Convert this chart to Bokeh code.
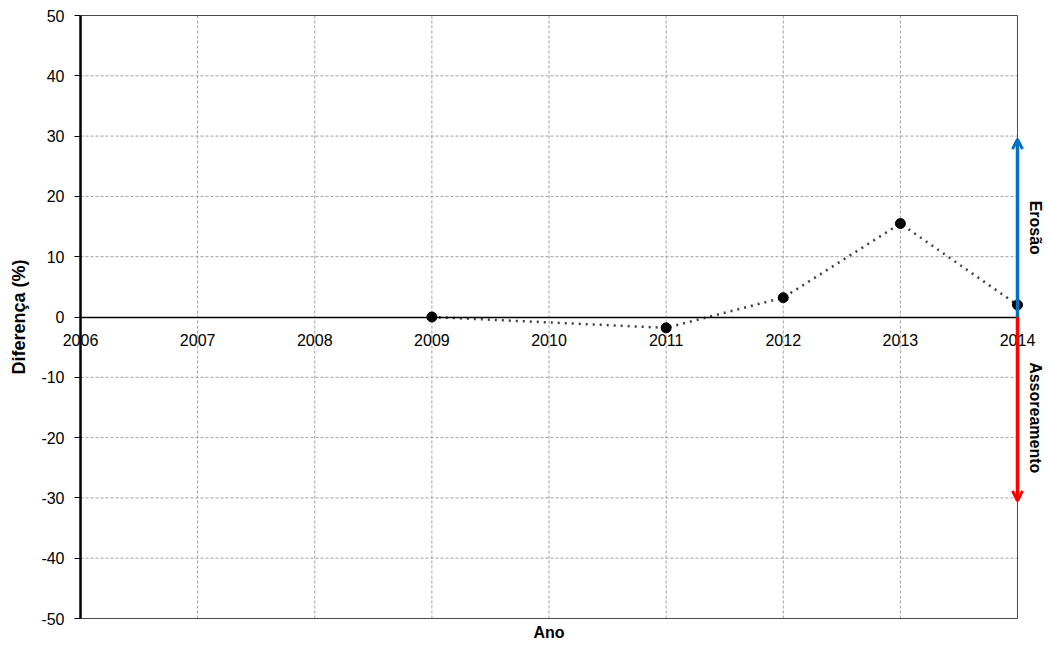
import math
from bokeh.plotting import figure
from bokeh.models import Range1d, FixedTicker, Arrow, OpenHead, Label
from bokeh.embed import file_html
from bokeh.resources import INLINE

years = [2009, 2011, 2012, 2013, 2014]
diff = [0.0, -1.8, 3.2, 15.5, 2.0]
x_ticks = [2006, 2007, 2008, 2009, 2010, 2011, 2012, 2013, 2014]
y_ticks = [-50, -40, -30, -20, -10, 0, 10, 20, 30, 40, 50]
arrow_x = 2014
erosao_top = 29.5
assor_bottom = -30.5

FONT = "Liberation Sans"

W, H = 1049, 646
# plot box in screen pixels
L, R, T, B = 80, 1017, 15, 618
x0, x1 = x_ticks[0], x_ticks[-1]
y0, y1 = y_ticks[0], y_ticks[-1]
sx = (R - L) / (x1 - x0)
sy = (B - T) / (y1 - y0)
xr = Range1d(x0 - L / sx, x1 + (W - R) / sx)
yr = Range1d(y0 - (H - B) / sy, y1 + T / sy)

p = figure(width=W, height=H, output_backend="svg", toolbar_location=None,
           x_range=xr, y_range=yr,
           min_border_left=0, min_border_right=0, min_border_top=0, min_border_bottom=0)
p.outline_line_color = None
p.xgrid.visible = False
p.ygrid.visible = False

# grid lines (dashed)
vx = x_ticks[1:-1]
p.segment(x0=vx, y0=[y0] * len(vx), x1=vx, y1=[y1] * len(vx),
          line_color="#a0a0a0", line_dash="3 2", line_width=1)
hy = [v for v in y_ticks if v not in (y0, 0, y1)]
p.segment(x0=[x0] * len(hy), y0=hy, x1=[x1] * len(hy), y1=hy,
          line_color="#a0a0a0", line_dash="3 2", line_width=1)
# box top / bottom / right
p.segment(x0=[x0, x0, x1], y0=[y1, y0, y0], x1=[x1, x1, x1], y1=[y1, y0, y1],
          line_color="#4a4a4a", line_width=1)

# x axis at zero
xa = p.xaxis[0]
xa.ticker = FixedTicker(ticks=x_ticks)
xa.fixed_location = 0
xa.bounds = (x0, x1)
xa.axis_line_color = "black"
xa.axis_line_width = 1.5
xa.major_tick_out = 0
xa.major_tick_in = 0
xa.minor_tick_out = 0
xa.minor_tick_in = 0
xa.major_label_standoff = 17
xa.major_label_text_font = FONT
xa.major_label_text_font_size = "16px"
xa.major_label_text_color = "black"

ya = p.yaxis[0]
ya.ticker = FixedTicker(ticks=y_ticks)
ya.fixed_location = x0
ya.bounds = (y0, y1)
ya.axis_line_color = "black"
ya.axis_line_width = 2.5
ya.major_tick_out = 6
ya.major_tick_in = 0
ya.minor_tick_out = 0
ya.minor_tick_in = 0
ya.major_label_standoff = 10
ya.major_label_text_font = FONT
ya.major_label_text_font_size = "16px"
ya.major_label_text_color = "black"
ya.major_label_overrides = {v: str(v) for v in y_ticks}

# arrows
p.add_layout(Arrow(end=OpenHead(size=10, line_color="#0070c0", line_width=3),
                   x_start=arrow_x, y_start=0, x_end=arrow_x, y_end=erosao_top,
                   line_color="#0070c0", line_width=3.5))
p.add_layout(Arrow(end=OpenHead(size=10, line_color="#ff0000", line_width=3),
                   x_start=arrow_x, y_start=0, x_end=arrow_x, y_end=assor_bottom,
                   line_color="#ff0000", line_width=3.5))

# data
p.line(years, diff, line_color="#404040", line_width=2.5, line_dash="2 5")
p.scatter(years, diff, size=10, fill_color="black", line_color="black")

# texts
p.add_layout(Label(x=arrow_x, y=14.8, x_offset=18, text="Erosão", angle=-math.pi / 2,
                   text_font=FONT, text_font_size="16px", text_font_style="bold",
                   text_align="center", text_baseline="middle", text_color="black"))
p.add_layout(Label(x=arrow_x, y=-16.7, x_offset=18, text="Assoreamento", angle=-math.pi / 2,
                   text_font=FONT, text_font_size="16px", text_font_style="bold",
                   text_align="center", text_baseline="middle", text_color="black"))
p.add_layout(Label(x=(x0 + x1) / 2, y=y0, y_offset=-14, text="Ano",
                   text_font=FONT, text_font_size="16px", text_font_style="bold",
                   text_align="center", text_baseline="middle", text_color="black"))
p.add_layout(Label(x=x0, y=0, x_offset=-62, text="Diferença (%)", angle=math.pi / 2,
                   text_font=FONT, text_font_size="18px", text_font_style="bold",
                   text_align="center", text_baseline="middle", text_color="black"))

open("out.html", "w").write(file_html(p, INLINE))
